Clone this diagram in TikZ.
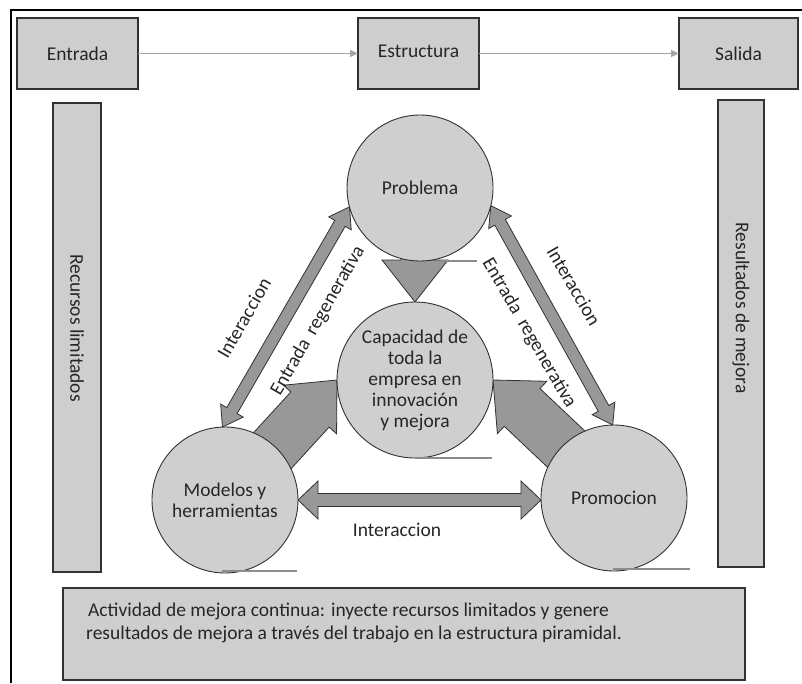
\documentclass[tikz,border=0pt]{standalone}
\usepackage{fontspec}
\setmainfont{Carlito}
\usetikzlibrary{calc,arrows.meta}

\definecolor{panel}{RGB}{206,206,206}
\definecolor{disc}{RGB}{208,207,208}
\definecolor{blockfill}{RGB}{152,152,152}
\definecolor{edge}{RGB}{50,50,50}
\definecolor{flow}{RGB}{165,165,165}
\definecolor{rule}{RGB}{140,140,140}

\pgfdeclarelayer{back}
\pgfdeclarelayer{paper}
\pgfsetlayers{paper,back,main}

\tikzset{
  every node/.style={font=\fontsize{19.5}{21}\selectfont, text=black!85},
  panelbox/.style={draw=edge, line width=1.2pt, fill=panel, inner sep=0pt, outer sep=0pt},
  discnode/.style={circle, draw=edge, line width=0.9pt, fill=disc, minimum size=146pt,
    inner sep=0pt, outer sep=0pt, align=center},
  blockarrow/.style={draw=edge, line width=0.8pt, fill=blockfill, line join=miter},
  flowline/.style={draw=flow, line width=1.2pt, -{Triangle[length=8pt,width=7pt]}},
  tick/.style={draw=rule, line width=1.2pt},
  frameline/.style={draw=black, line width=1.6pt},
}

% double-headed block arrow: from, to, shaft half width, head half width, head length
\newcommand\dblblock[5]{%
  \draw[blockarrow] let \p1=($(#2)-(#1)$), \n1={atan2(\y1,\x1)} in
    (#1) -- ($(#1)+(\n1:#5)+(\n1+90:#4)$) -- ($(#1)+(\n1:#5)+(\n1+90:#3)$)
    -- ($(#2)+(\n1:-#5)+(\n1+90:#3)$) -- ($(#2)+(\n1:-#5)+(\n1+90:#4)$)
    -- (#2) -- ($(#2)+(\n1:-#5)+(\n1-90:#4)$) -- ($(#2)+(\n1:-#5)+(\n1-90:#3)$)
    -- ($(#1)+(\n1:#5)+(\n1-90:#3)$) -- ($(#1)+(\n1:#5)+(\n1-90:#4)$) -- cycle;}

% single-headed block arrow: tail, tip, shaft half width, head half width, head length
\newcommand\sglblock[5]{%
  \draw[blockarrow] let \p1=($(#2)-(#1)$), \n1={atan2(\y1,\x1)} in
    ($(#1)+(\n1+90:#3)$) -- ($(#2)+(\n1:-#5)+(\n1+90:#3)$) -- ($(#2)+(\n1:-#5)+(\n1+90:#4)$)
    -- (#2) -- ($(#2)+(\n1:-#5)+(\n1-90:#4)$) -- ($(#2)+(\n1:-#5)+(\n1-90:#3)$)
    -- ($(#1)+(\n1-90:#3)$) -- cycle;}

\begin{document}
\begin{tikzpicture}[x=1pt, y=-1pt]
\useasboundingbox (0,0) rectangle (802,683);
\begin{pgfonlayer}{paper}
  \fill[white] (0,0) rectangle (802,683);
\end{pgfonlayer}

% outer frame
\draw[frameline] (11,683) -- (11,10) -- (802,10);

% top row: input, structure, output
\node[panelbox, minimum width=121pt, minimum height=71pt] (entrada) at (77.5,53.5) {Entrada};
\node[panelbox, minimum width=121pt, minimum height=71pt] (estructura) at (418.5,53.5) {\raisebox{5pt}{Estructura}};
\node[panelbox, minimum width=119pt, minimum height=71pt] (salida) at (738.5,53.5) {Salida};
\draw[flowline] (entrada.east) -- (estructura.west);
\draw[flowline] (estructura.east) -- (salida.west);

% side columns
\node[panelbox, minimum width=48pt, minimum height=469pt] (recursos) at (77,337.5) {};
\node[rotate=-90] (recursosT) at (77,328) {Recursos limitados};
\node[panelbox, minimum width=46pt, minimum height=467pt] (resultados) at (741,333.5) {};
\node[rotate=-90] (resultadosT) at (741,308) {Resultados de mejora};

% bottom note
\node[panelbox, minimum width=682pt, minimum height=92pt] (nota) at (404,634) {};
\node[anchor=north west, align=left, inner sep=0pt, font=\fontsize{19.5}{22.5}\selectfont] (notaT) at (86,603)
  {\hspace{2pt}Actividad de mejora continua: inyecte recursos limitados y genere\\
   resultados de mejora a través del trabajo en la estructura piramidal.};

% the four discs
\node[discnode] (prob) at (420,188) {Problema};
\node[discnode, minimum size=156pt] (cap) at (415,380)
  {Capacidad de\\toda la\\empresa en\\innovación\\y mejora};
\node[discnode] (mod) at (225,500) {Modelos y\\herramientas};
\node[discnode] (prom) at (614,498) {Promocion};

% block arrows sit behind the discs
\begin{pgfonlayer}{back}
  \coordinate (downtail) at ($(cap.north |- prob.center)$);
  \coordinate (modtail) at ($(mod.center)+(46:60pt)$);
  \coordinate (promtail) at ($(prom.center)+(134:60pt)$);
  \coordinate (botend) at (prom.west |- mod.east);
  \sglblock{downtail}{cap.north}{14pt}{33pt}{42pt}
  \sglblock{modtail}{cap.180}{26pt}{36pt}{40pt}
  \sglblock{promtail}{cap.0}{26pt}{36pt}{40pt}
  \dblblock{mod.92}{prob.195}{6pt}{13pt}{19pt}
  \dblblock{prob.-14}{prom.91}{6pt}{13pt}{19pt}
  \dblblock{mod.east}{botend}{6.5pt}{19pt}{20pt}
\end{pgfonlayer}

% short rules under the discs
\draw[tick] (440,261) -- (477,261);
\draw[tick] (cap.south) -- ++(77pt,0);
\draw[tick] (222,571) -- (297,571);
\draw[tick] (613,569) -- (690,569);

% arrow labels
\node[rotate=60] (lblL1) at (244,318) {Interaccion};
\node[rotate=60] (lblL2) at (318,321) {Entrada~ regenerativa};
\node[rotate=-60] (lblR1) at (574,286) {Interaccion};
\node[rotate=-60] (lblR2) at (529,333) {Entrada~ regenerativa};
\node (lblB) at (397,530) {Interaccion};
\end{tikzpicture}
\end{document}
